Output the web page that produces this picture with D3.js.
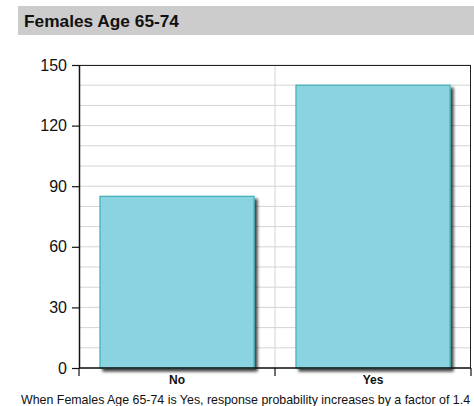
<!DOCTYPE html>
<html>
<head>
<meta charset="utf-8">
<script src="https://cdn.jsdelivr.net/npm/d3@7"></script>
<style>
  html, body { margin: 0; padding: 0; background: #fff; }
  svg { display: block; font-family: "Liberation Sans", Arial, sans-serif; }
</style>
</head>
<body>
<svg id="chart" width="474" height="406"></svg>
<script>
// Response counts by category
const categories = ["No", "Yes"];
const counts = [85, 140];
const yTicks = [0, 30, 60, 90, 120, 150];
const gridValues = d3.range(0, 151, 10);
const title = "Females Age 65-74";
const note = "When Females Age 65-74 is Yes, response probability increases by a factor of 1.4";

const svg = d3.select("#chart");
const plotLeft = 79, plotRight = 471, plotTop = 65, plotBottom = 368;

// header band
svg.append("rect").attr("x", 18).attr("y", 6).attr("width", 474 - 18).attr("height", 29).attr("fill", "#cccccc");
svg.append("text").attr("x", 24).attr("y", 27).attr("font-size", 17.3).attr("font-weight", "bold")
  .attr("fill", "#111").text(title);

const x = d3.scaleBand().domain(categories).range([plotLeft, plotRight]).padding(0);
const y = d3.scaleLinear().domain([0, 150]).range([plotBottom, plotTop]);

// horizontal grid every 10
svg.append("g").selectAll("line").data(gridValues).join("line")
  .attr("x1", plotLeft).attr("x2", plotRight)
  .attr("y1", d => y(d)).attr("y2", d => y(d))
  .attr("stroke", "#d4d4d4").attr("stroke-width", 1);

// vertical grid between categories
svg.append("g").selectAll("line").data(categories.slice(1)).join("line")
  .attr("x1", d => x(d)).attr("x2", d => x(d))
  .attr("y1", plotTop).attr("y2", plotBottom)
  .attr("stroke", "#d4d4d4").attr("stroke-width", 1);

// drop shadow for bars
const defs = svg.append("defs");
const f = defs.append("filter").attr("id", "shadow").attr("x", "-10%").attr("y", "-10%").attr("width", "130%").attr("height", "130%");
f.append("feGaussianBlur").attr("in", "SourceAlpha").attr("stdDeviation", 1.5).attr("result", "b");
f.append("feOffset").attr("in", "b").attr("dx", 3).attr("dy", 3).attr("result", "o");
f.append("feComponentTransfer").attr("in", "o").attr("result", "s")
  .append("feFuncA").attr("type", "linear").attr("slope", 0.75);
const m = f.append("feMerge");
m.append("feMergeNode").attr("in", "s");
m.append("feMergeNode").attr("in", "SourceGraphic");

const inset = x.bandwidth() * 0.107;
svg.append("g").selectAll("rect").data(categories).join("rect")
  .attr("x", d => x(d) + inset)
  .attr("width", x.bandwidth() - 2 * inset)
  .attr("y", (d, i) => y(counts[i]))
  .attr("height", (d, i) => y(0) - y(counts[i]))
  .attr("fill", "#8ad4e2").attr("stroke", "#3fb0b4").attr("stroke-width", 1.2)
  .attr("filter", "url(#shadow)");

// frame top & right
svg.append("line").attr("x1", plotLeft).attr("x2", plotRight).attr("y1", plotTop + 0.5).attr("y2", plotTop + 0.5).attr("stroke", "#222");
svg.append("line").attr("x1", plotRight - 0.5).attr("x2", plotRight - 0.5).attr("y1", plotTop).attr("y2", plotBottom).attr("stroke", "#222");

// y axis
const yAxis = svg.append("g").attr("transform", `translate(${plotLeft},0)`)
  .call(d3.axisLeft(y).tickValues(yTicks).tickSize(7).tickPadding(5).tickSizeOuter(0));
yAxis.select(".domain").attr("stroke", "#111").attr("stroke-width", 1.5);
yAxis.selectAll(".tick line").attr("stroke", "#111").attr("stroke-width", 1.2);
yAxis.selectAll("text").attr("font-size", 16).attr("fill", "#111").attr("font-family", "Liberation Sans, Arial, sans-serif");

// x axis: boundary ticks and category labels
const xb = svg.append("g");
xb.append("line").attr("x1", plotLeft).attr("x2", plotRight).attr("y1", plotBottom).attr("y2", plotBottom).attr("stroke", "#111").attr("stroke-width", 1.5);
const bounds = categories.map(c => x(c)).concat([x(categories[categories.length - 1]) + x.bandwidth()]);
xb.selectAll("line.b").data(bounds).join("line").attr("class", "b")
  .attr("x1", d => d).attr("x2", d => d).attr("y1", plotBottom).attr("y2", plotBottom + 8)
  .attr("stroke", "#111").attr("stroke-width", 1.2);
xb.selectAll("text").data(categories).join("text")
  .attr("x", d => x(d) + x.bandwidth() / 2).attr("y", 384)
  .attr("text-anchor", "middle").attr("font-size", 12).attr("font-weight", "bold").attr("fill", "#111")
  .text(d => d);

svg.append("text").attr("x", 21).attr("y", 403.5).attr("font-size", 12.4).attr("fill", "#111").text(note);
</script>
</body>
</html>
